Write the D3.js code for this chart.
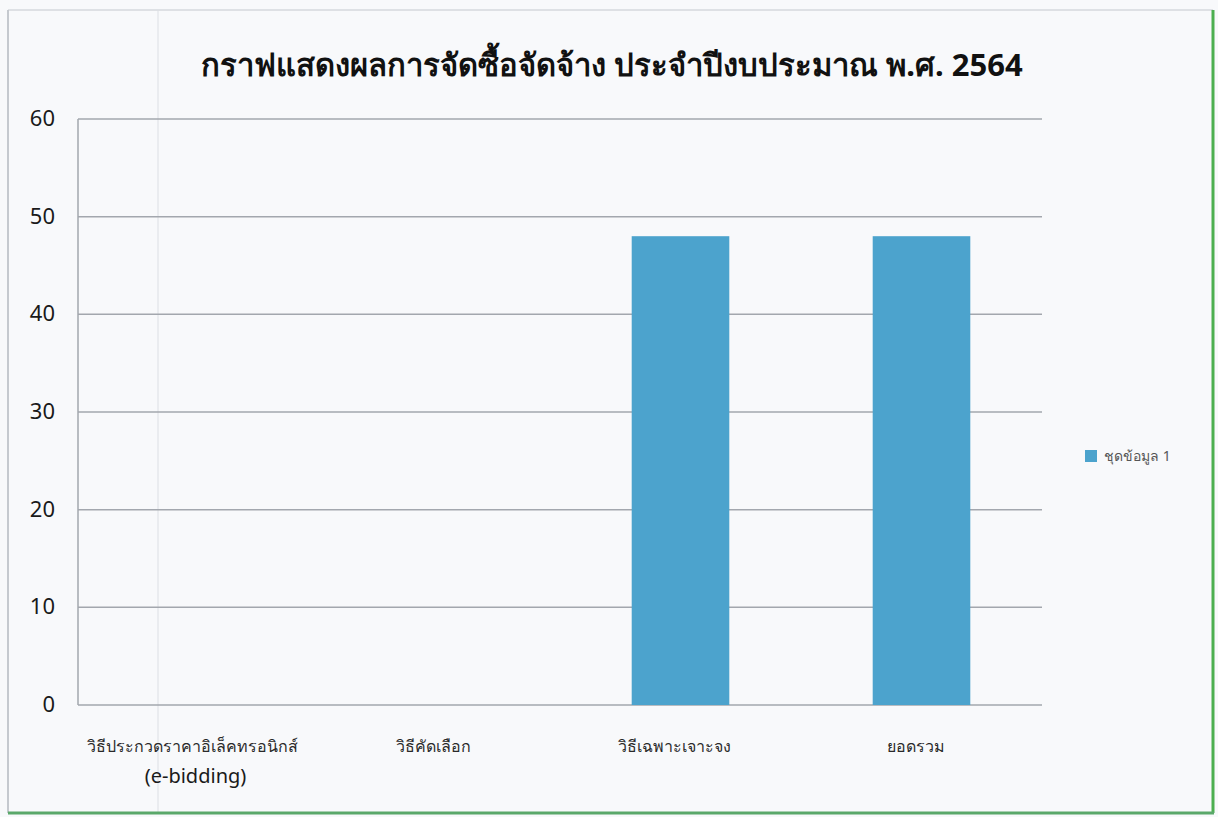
<!DOCTYPE html>
<html>
  <head>
    <meta charset="utf-8">
    <title>กราฟแสดงผลการจัดซื้อจัดจ้าง</title>
    <style>
      body { margin: 0; background: #f8f9fb; }
      text { font-family: "Noto Sans", "DejaVu Sans", sans-serif; }
    </style>
  </head>
  <body>
    <script src="https://d3js.org/d3.v7.min.js"></script>
    <script>
      // data
      var categories = ["วิธีประกวดราคาอิเล็คทรอนิกส์", "วิธีคัดเลือก", "วิธีเฉพาะเจาะจง", "ยอดรวม"];
      var subLabels = ["(e-bidding)", "", "", ""];
      var values = [0, 0, 48, 48];
      var yTicks = [0, 10, 20, 30, 40, 50, 60];
      var seriesName = "ชุดข้อมูล 1";
      var title = "กราฟแสดงผลการจัดซื้อจัดจ้าง ประจำปีงบประมาณ พ.ศ. 2564";

      var w = 1218, h = 817;
      var plotL = 78, plotR = 1042, plotT = 119, plotB = 705;

      var svg = d3.select("body").append("svg")
        .attr("width", w)
        .attr("height", h);

      // page frame (scanned sheet)
      svg.append("rect")
        .attr("x", 0).attr("y", 0).attr("width", w).attr("height", h)
        .attr("fill", "#f8f9fb");
      svg.append("line")
        .attr("x1", 8).attr("x2", 8).attr("y1", 10).attr("y2", 813)
        .attr("stroke", "#b4b8c0").attr("stroke-width", 1.5);
      svg.append("line")
        .attr("x1", 8).attr("x2", 1213).attr("y1", 10).attr("y2", 10)
        .attr("stroke", "#c4c8ce").attr("stroke-width", 1);
      svg.append("line")
        .attr("x1", 158).attr("x2", 158).attr("y1", 10).attr("y2", 813)
        .attr("stroke", "#dcdfe4").attr("stroke-width", 1);
      svg.append("line")
        .attr("x1", 1213).attr("x2", 1213).attr("y1", 10).attr("y2", 813)
        .attr("stroke", "#4caf50").attr("stroke-width", 3);
      svg.append("line")
        .attr("x1", 8).attr("x2", 1214).attr("y1", 813).attr("y2", 813)
        .attr("stroke", "#5aa86a").attr("stroke-width", 3);

      var xScale = d3.scaleBand()
        .domain(categories)
        .range([plotL, plotR])
        .padding(0);

      var yScale = d3.scaleLinear()
        .domain([0, 60])
        .range([plotB, plotT]);

      // gridlines
      svg.append("g")
        .selectAll("line")
        .data(yTicks)
        .join("line")
        .attr("x1", plotL).attr("x2", plotR)
        .attr("y1", function(d) { return yScale(d); })
        .attr("y2", function(d) { return yScale(d); })
        .attr("stroke", "#a3a7ae")
        .attr("stroke-width", 1.5);

      svg.append("line")
        .attr("x1", plotL).attr("x2", plotL)
        .attr("y1", yScale(60)).attr("y2", yScale(0))
        .attr("stroke", "#a3a7ae")
        .attr("stroke-width", 1.5);

      // y axis labels
      var yAxis = d3.axisLeft(yScale).tickValues(yTicks).tickSize(0).tickPadding(23);
      var gy = svg.append("g")
        .attr("transform", "translate(" + plotL + ",0)")
        .call(yAxis);
      gy.select(".domain").remove();
      gy.selectAll("text")
        .attr("font-size", 22)
        .attr("fill", "#1a1a1a")
        .attr("dy", "0.3em");

      // bars
      var barW = xScale.bandwidth() * 0.405;
      svg.append("g")
        .selectAll("rect")
        .data(values)
        .join("rect")
        .attr("x", function(d, i) { return xScale(categories[i]) + xScale.bandwidth() / 2 - barW / 2; })
        .attr("y", function(d) { return yScale(d); })
        .attr("width", barW)
        .attr("height", function(d) { return yScale(0) - yScale(d); })
        .attr("fill", "#4ca3cd");

      // x labels
      var gx = svg.append("g");
      gx.selectAll("text.cat")
        .data(categories)
        .join("text")
        .attr("class", "cat")
        .attr("x", function(d) { return xScale(d) + xScale.bandwidth() / 2 - 6; })
        .attr("y", 752)
        .attr("text-anchor", "middle")
        .attr("font-size", 16)
        .attr("fill", "#2a2a2a")
        .text(function(d) { return d; });
      gx.selectAll("text.sub")
        .data(subLabels)
        .join("text")
        .attr("class", "sub")
        .attr("x", function(d, i) { return xScale(categories[i]) + xScale.bandwidth() / 2 - 3; })
        .attr("y", 783)
        .attr("text-anchor", "middle")
        .attr("font-size", 20)
        .attr("fill", "#1a1a1a")
        .text(function(d) { return d; });

      // title
      svg.append("text")
        .attr("x", 612)
        .attr("y", 76)
        .attr("text-anchor", "middle")
        .attr("font-size", 31)
        .attr("font-weight", "bold")
        .attr("fill", "#111")
        .text(title);

      // legend
      var lg = svg.append("g").attr("transform", "translate(1085,450)");
      lg.append("rect")
        .attr("width", 12).attr("height", 12)
        .attr("fill", "#4ca3cd");
      lg.append("text")
        .attr("x", 19).attr("y", 11)
        .attr("font-size", 14)
        .attr("fill", "#555")
        .text(seriesName);
    </script>
  </body>
</html>
